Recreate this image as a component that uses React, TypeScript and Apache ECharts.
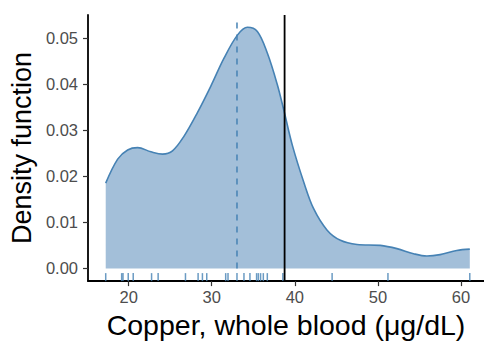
import React, { useEffect, useRef } from "react";
import * as echarts from "echarts";

const densityX = [17.24, 18.68, 19.88, 21.08, 22.68, 24.08, 25.28, 26.67, 28.28, 29.88, 31.48, 33.09, 34.29, 35.49, 36.69, 37.89, 38.68, 39.69, 41.08, 42.28, 43.89, 45.49, 47.49, 50.29, 52.29, 54.29, 55.89, 57.49, 59.49, 61.06];
const densityY = [0.0185, 0.0237, 0.0257, 0.0262, 0.0253, 0.0248, 0.0255, 0.0287, 0.0338, 0.0395, 0.0456, 0.0506, 0.0523, 0.0514, 0.0467, 0.0399, 0.0343, 0.0268, 0.0187, 0.0129, 0.0083, 0.0061, 0.0052, 0.0050, 0.0043, 0.0032, 0.0027, 0.0030, 0.0039, 0.0042];
const rugValues = [17.24, 19.16, 19.32, 19.95, 20.55, 22.76, 23.55, 26.84, 28.36, 28.88, 29.40, 31.68, 31.96, 33.04, 33.88, 34.60, 35.40, 35.61, 35.88, 36.21, 36.69, 38.56, 44.49, 51.21, 61.06];
const medianValue = 33.04;
const referenceValue = 38.77;
const xTicks = [20, 30, 40, 50, 60];
const yTicks = [0, 0.01, 0.02, 0.03, 0.04, 0.05];

const FONT = "'Liberation Sans', Arial, Helvetica, sans-serif";
const X_MIN = 15.11;
const X_MAX = 62.77;
const Y_MIN = -0.00274;
const Y_MAX = 0.05496;

export default function App() {
  const ref = useRef<HTMLDivElement>(null);
  useEffect(() => {
    if (!ref.current) return;
    const chart = echarts.init(ref.current, null, { renderer: "svg" });
    const axisLine = { show: true, onZero: false, lineStyle: { color: "#000", width: 1.8 } };
    chart.setOption({
      animation: false,
      backgroundColor: "#fff",
      grid: { left: 87, top: 15, right: 0, bottom: 61.3, containLabel: false },
      xAxis: {
        type: "value",
        min: X_MIN,
        max: X_MAX,
        axisLine,
        splitLine: { show: false },
        axisTick: { show: true, customValues: xTicks, length: 5, lineStyle: { color: "#333", width: 1.2 } },
        axisLabel: { customValues: xTicks, fontSize: 16.5, color: "#4d4d4d", margin: 7, fontFamily: FONT },
        name: "Copper, whole blood (μg/dL)",
        nameLocation: "middle",
        nameGap: 21,
        nameTextStyle: { fontSize: 28.5, color: "#000", fontFamily: FONT },
      },
      yAxis: {
        type: "value",
        min: Y_MIN,
        max: Y_MAX,
        axisLine,
        splitLine: { show: false },
        axisTick: { show: true, customValues: yTicks, length: 5, lineStyle: { color: "#333", width: 1.2 } },
        axisLabel: {
          customValues: yTicks,
          fontSize: 16.5,
          color: "#4d4d4d",
          margin: 10,
          fontFamily: FONT,
          formatter: (v: number) => v.toFixed(2),
        },
        name: "Density function",
        nameLocation: "middle",
        nameGap: 47,
        nameTextStyle: { fontSize: 27, color: "#000", fontFamily: FONT },
      },
      series: [
        {
          type: "line",
          data: densityX.map((x, i) => [x, densityY[i]]),
          smooth: 0.35,
          showSymbol: false,
          lineStyle: { color: "#4682b4", width: 1.6 },
          areaStyle: { color: "#a3bfd9", opacity: 1, origin: 0 },
          z: 2,
        },
        {
          type: "line",
          data: [[medianValue, 0], [medianValue, 0.0543]],
          showSymbol: false,
          lineStyle: { color: "#4682b4", width: 1.5, type: [6, 6] },
          z: 3,
        },
        {
          type: "line",
          data: [[referenceValue, Y_MIN], [referenceValue, Y_MAX]],
          showSymbol: false,
          lineStyle: { color: "#000", width: 1.8 },
          z: 4,
        },
        {
          type: "scatter",
          data: rugValues.map((v) => [v, -0.001875]),
          symbol: "rect",
          symbolSize: [1.5, 8],
          itemStyle: { color: "#4682b4" },
          z: 3,
        },
      ],
    });
    return () => chart.dispose();
  }, []);
  return <div ref={ref} style={{ position: "fixed", left: 0, top: 0, width: 484, height: 344 }} />;
}
